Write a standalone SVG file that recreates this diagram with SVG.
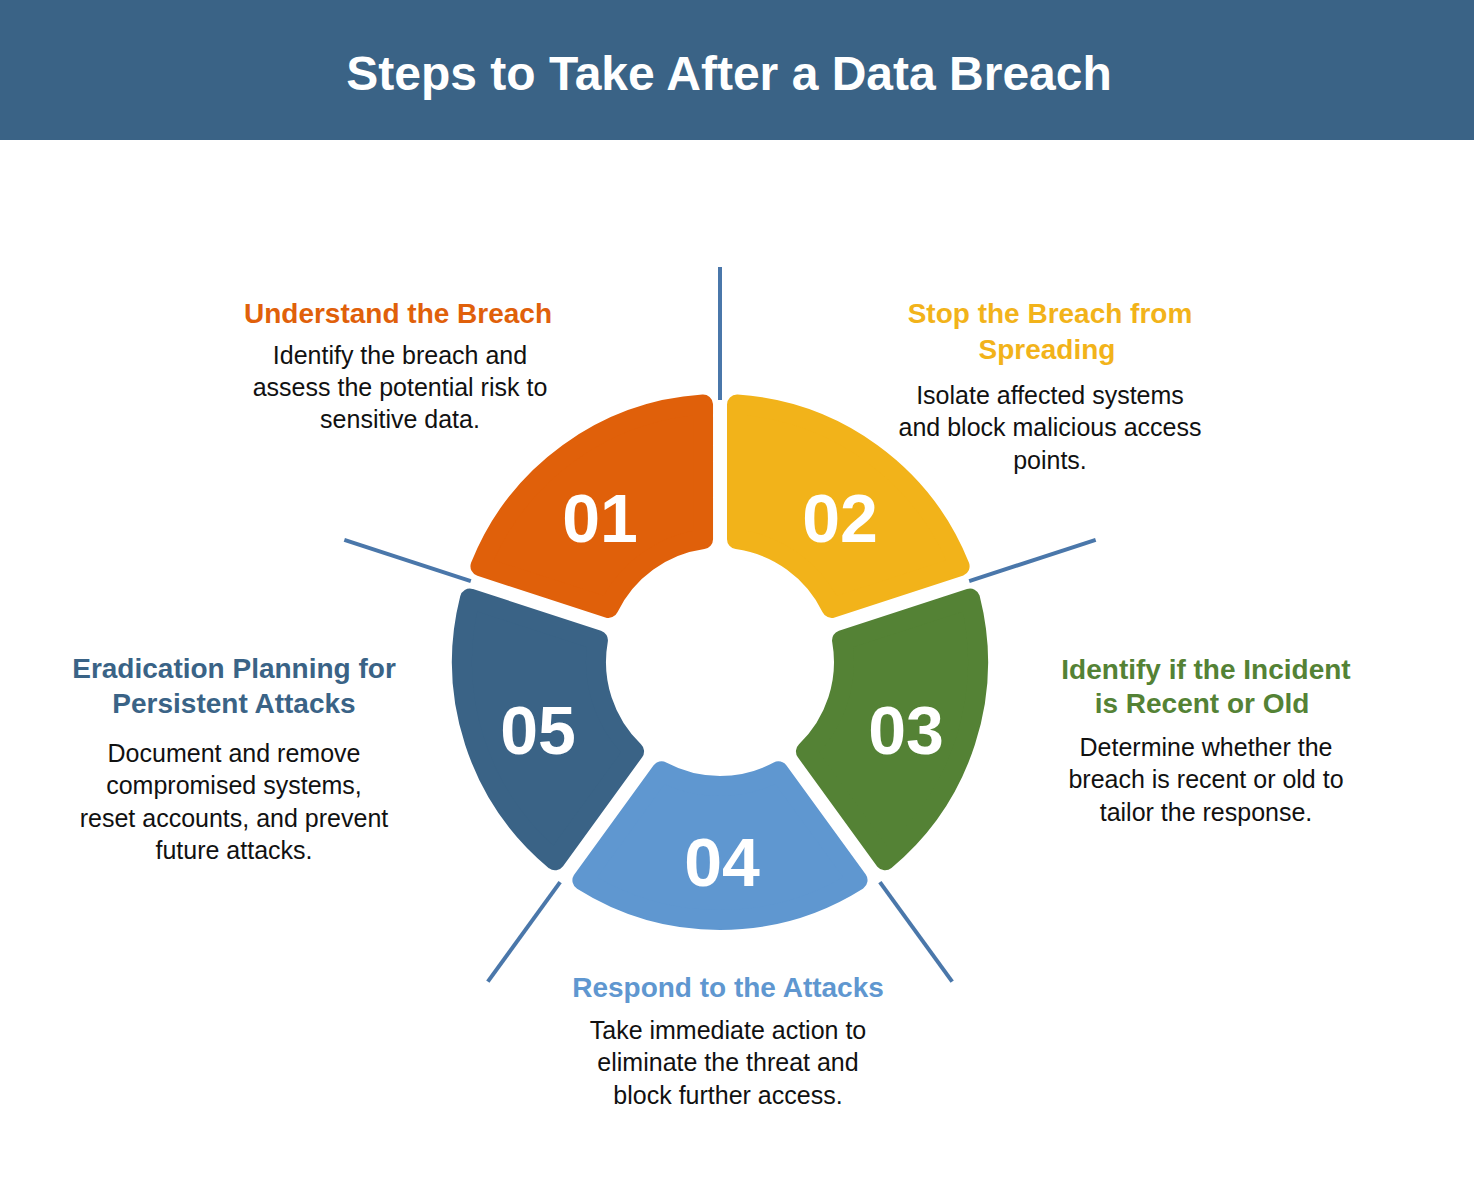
<svg xmlns="http://www.w3.org/2000/svg" width="1474" height="1190" viewBox="0 0 1474 1190">
<style>
.seg{stroke-width:20;stroke-linejoin:round}
.num{font-family:"Liberation Sans",Arial,sans-serif;font-weight:bold;font-size:68px;fill:#fff;text-anchor:middle}
.t{font-family:"Liberation Sans",Arial,sans-serif;font-weight:bold;font-size:28px;text-anchor:middle}
.b{font-family:"Liberation Sans",Arial,sans-serif;font-size:25px;fill:#111;text-anchor:middle}
.sp{stroke:#4a77aa;stroke-width:4}
</style>
<defs>
<path id="seg" d="M737,404.6 A258,258 0 0 1 959.6,566.3 L831.6,607.9 A124,124 0 0 0 737,539.2 Z"/>
</defs>
<rect x="0" y="0" width="1474" height="140" fill="#3a6386"/>
<text x="729" y="90" font-family="Liberation Sans,Arial,sans-serif" font-weight="bold" font-size="48" fill="#fff" text-anchor="middle">Steps to Take After a Data Breach</text>
<g id="connectors">
<line class="sp" x1="720" y1="267" x2="720" y2="400"/>
<line class="sp" x1="720" y1="267" x2="720" y2="400" transform="rotate(72 720 662)"/>
<line class="sp" x1="720" y1="267" x2="720" y2="390" transform="rotate(144 720 662)"/>
<line class="sp" x1="720" y1="267" x2="720" y2="390" transform="rotate(216 720 662)"/>
<line class="sp" x1="720" y1="267" x2="720" y2="400" transform="rotate(288 720 662)"/>
</g>
<g id="step1">
<use href="#seg" class="seg" fill="#e0600a" stroke="#e0600a" transform="rotate(-72 720 662)"/>
<text class="num" x="600" y="542">01</text>
<text class="t" x="398" y="323" fill="#e0600a">Understand the Breach</text>
<text class="b" x="400" y="364">Identify the breach and</text>
<text class="b" x="400" y="396">assess the potential risk to</text>
<text class="b" x="400" y="428">sensitive data.</text>
</g>
<g id="step2">
<use href="#seg" class="seg" fill="#f2b31a" stroke="#f2b31a"/>
<text class="num" x="840" y="542">02</text>
<text class="t" x="1050" y="323" fill="#f2b31a">Stop the Breach from</text>
<text class="t" x="1047" y="359" fill="#f2b31a">Spreading</text>
<text class="b" x="1050" y="404">Isolate affected systems</text>
<text class="b" x="1050" y="436">and block malicious access</text>
<text class="b" x="1050" y="469">points.</text>
</g>
<g id="step3">
<use href="#seg" class="seg" fill="#548235" stroke="#548235" transform="rotate(72 720 662)"/>
<text class="num" x="906" y="754">03</text>
<text class="t" x="1206" y="679" fill="#548235">Identify if the Incident</text>
<text class="t" x="1202" y="713" fill="#548235">is Recent or Old</text>
<text class="b" x="1206" y="756">Determine whether the</text>
<text class="b" x="1206" y="788">breach is recent or old to</text>
<text class="b" x="1206" y="821">tailor the response.</text>
</g>
<g id="step4">
<use href="#seg" class="seg" fill="#5f97d0" stroke="#5f97d0" transform="rotate(144 720 662)"/>
<text class="num" x="722" y="886">04</text>
<text class="t" x="728" y="997" fill="#5f97d0">Respond to the Attacks</text>
<text class="b" x="728" y="1039">Take immediate action to</text>
<text class="b" x="728" y="1071">eliminate the threat and</text>
<text class="b" x="728" y="1104">block further access.</text>
</g>
<g id="step5">
<use href="#seg" class="seg" fill="#3a6386" stroke="#3a6386" transform="rotate(216 720 662)"/>
<text class="num" x="538" y="754">05</text>
<text class="t" x="234" y="678" fill="#3a6386">Eradication Planning for</text>
<text class="t" x="234" y="713" fill="#3a6386">Persistent Attacks</text>
<text class="b" x="234" y="762">Document and remove</text>
<text class="b" x="234" y="794">compromised systems,</text>
<text class="b" x="234" y="827">reset accounts, and prevent</text>
<text class="b" x="234" y="859">future attacks.</text>
</g>
</svg>
